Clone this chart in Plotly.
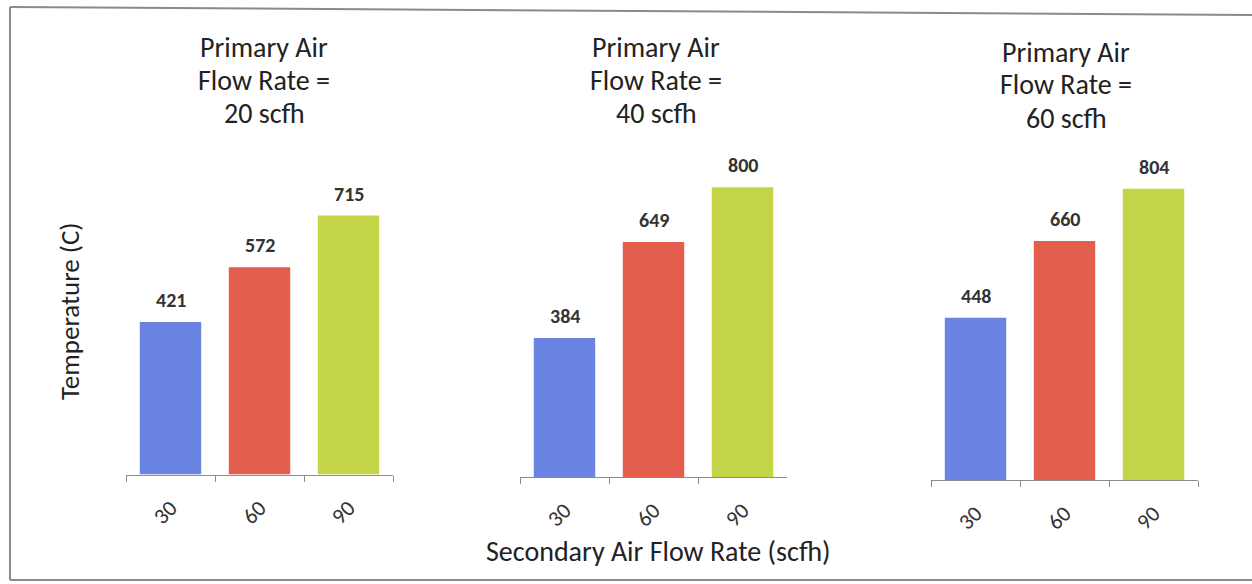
import plotly.graph_objects as go

# ---- data ----
secondary_flow = ["30", "60", "90"]
panel_titles = [["Primary Air", "Flow Rate =", "20 scfh"],
                ["Primary Air", "Flow Rate =", "40 scfh"],
                ["Primary Air", "Flow Rate =", "60 scfh"]]
temp_primary_20 = [421, 572, 715]
temp_primary_40 = [384, 649, 800]
temp_primary_60 = [448, 660, 804]
bar_colors = ["#6a84e4", "#e45e4e", "#c4d648"]
y_title = "Temperature (C)"
x_title = "Secondary Air Flow Rate (scfh)"

W, H = 1252, 584
FONT = "Carlito, Lato, sans-serif"
Y_MAX = 900
PX_PER_UNIT = 0.3622

panels = [temp_primary_20, temp_primary_40, temp_primary_60]
x_px = [(126, 393), (520, 787), (931, 1198)]
baseline_px = [474.5, 477, 480]
title_cx_px = [264, 656, 1066]
title_y_px = [47, 47, 52]

fig = go.Figure()
for i, vals in enumerate(panels):
    ax = "" if i == 0 else str(i + 1)
    fig.add_trace(go.Bar(
        x=secondary_flow, y=vals,
        marker=dict(color=bar_colors, line=dict(width=0)),
        xaxis="x" + ax, yaxis="y" + ax,
        showlegend=False, hoverinfo="x+y",
    ))
    for k, v in enumerate(vals):
        fig.add_annotation(
            x=k, y=v, xref="x" + ax, yref="y" + ax,
            text="<b>%d</b>" % v, showarrow=False,
            yanchor="bottom", yshift=8,
            font=dict(family=FONT, size=20, color="#333333"),
        )
    xa = dict(
        type="category", range=[-0.5, len(secondary_flow) - 0.5],
        domain=[x_px[i][0] / W, x_px[i][1] / W],
        anchor="y" + ax,
        showline=True, linecolor="#8c8c8c", linewidth=1,
        ticks="outside", tickson="boundaries", ticklen=6, tickcolor="#8c8c8c",
        tickangle=-45, tickfont=dict(family=FONT, size=22, color="#333333"),
        ticklabelstandoff=11,
        showgrid=False, zeroline=False, fixedrange=True,
    )
    b = baseline_px[i]
    top = b - Y_MAX * PX_PER_UNIT
    ya = dict(
        domain=[(H - b) / H, (H - top) / H], anchor="x" + ax, range=[0, Y_MAX],
        visible=False, showgrid=False, zeroline=False, fixedrange=True,
    )
    fig.layout["xaxis" + ax] = xa
    fig.layout["yaxis" + ax] = ya
    cx = title_cx_px[i] / W
    for k, line in enumerate(panel_titles[i]):
        fig.add_annotation(
            x=cx, y=1 - (title_y_px[i] + 33 * k) / H,
            xref="paper", yref="paper", text=line, showarrow=False,
            xanchor="center", yanchor="middle",
            font=dict(family=FONT, size=28, color="#222222"),
        )

fig.add_annotation(
    x=69 / W, y=1 - 311 / H, xref="paper", yref="paper", text=y_title,
    textangle=-90, showarrow=False, xanchor="center", yanchor="middle",
    font=dict(family=FONT, size=27, color="#222222"),
)
fig.add_annotation(
    x=658 / W, y=1 - 551 / H, xref="paper", yref="paper", text=x_title,
    showarrow=False, xanchor="center", yanchor="middle",
    font=dict(family=FONT, size=28, color="#222222"),
)

# border of the chart frame
border = dict(color="#8a8a8a", width=2)
fig.add_shape(type="line", xref="paper", yref="paper",
              x0=10 / W, y0=1 - 7 / H, x1=1, y1=1 - 15 / H, line=border)
fig.add_shape(type="line", xref="paper", yref="paper",
              x0=10 / W, y0=1 - 7 / H, x1=10 / W, y1=1 - 580 / H, line=border)
fig.add_shape(type="line", xref="paper", yref="paper",
              x0=10 / W, y0=1 - 580 / H, x1=1, y1=1 - 580 / H, line=border)

fig.update_layout(
    width=W, height=H,
    margin=dict(l=0, r=0, t=0, b=0),
    paper_bgcolor="white", plot_bgcolor="white",
    bargap=0.31,
)

fig.write_html("out.html", config={"displayModeBar": False})
